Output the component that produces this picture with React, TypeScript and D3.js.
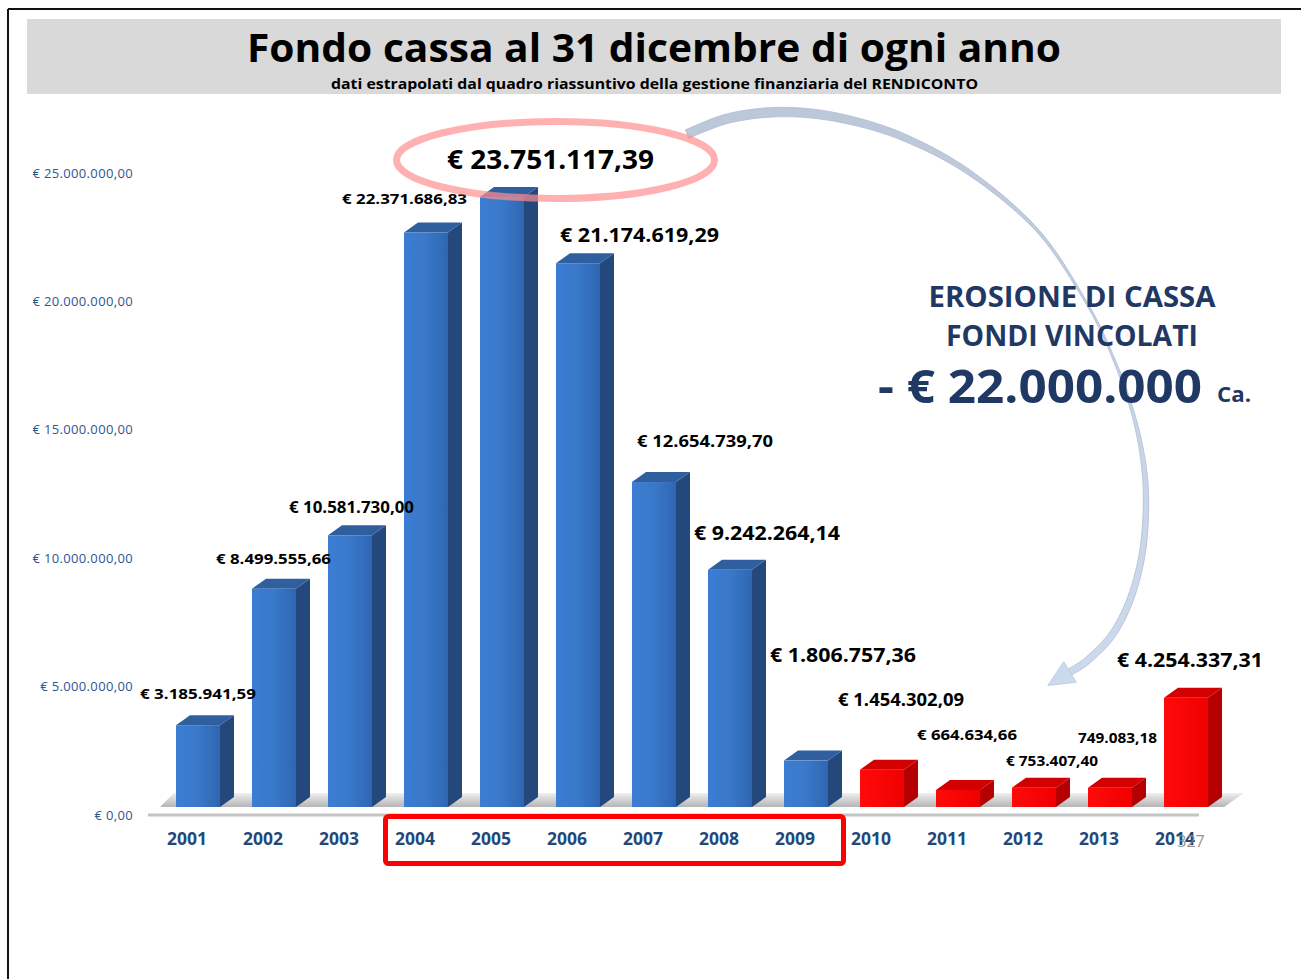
import React from "react";
import * as d3 from "d3";

// ---------- data ----------
const years = ["2001","2002","2003","2004","2005","2006","2007","2008","2009","2010","2011","2012","2013","2014"];
const values = [3185941.59, 8499555.66, 10581730.0, 22371686.83, 23751117.39, 21174619.29, 12654739.7, 9242264.14, 1806757.36, 1454302.09, 664634.66, 753407.4, 749083.18, 4254337.31];
const valueLabels = ["€ 3.185.941,59","€ 8.499.555,66","€ 10.581.730,00","€ 22.371.686,83","€ 23.751.117,39","€ 21.174.619,29","€ 12.654.739,70","€ 9.242.264,14","€ 1.806.757,36","€ 1.454.302,09","€ 664.634,66","€ 753.407,40","749.083,18","€ 4.254.337,31"];
const erosionYears = ["2010","2011","2012","2013","2014"];
const highlightedYears = ["2004","2005","2006","2007","2008","2009"];
const yTicks = [0, 5000000, 10000000, 15000000, 20000000, 25000000];
const yTickLabels = ["€ 0,00","€ 5.000.000,00","€ 10.000.000,00","€ 15.000.000,00","€ 20.000.000,00","€ 25.000.000,00"];

const title = "Fondo cassa al 31 dicembre di ogni anno";
const subtitle = "dati estrapolati dal quadro riassuntivo della gestione finanziaria del RENDICONTO";
const noteLines = ["EROSIONE DI CASSA", "FONDI VINCOLATI"];
const noteAmount = "- € 22.000.000";
const noteSuffix = "Ca.";
const pageNumber = "327";

// ---------- label layout (style) ----------
const labelDx = [-36, -36, -39, -62, -33, 4, 5, -14, -14, -22, -19, -6, -10, -47];
const labelDy = [-26, -25, -22, -28, -28, -21, -35, -30, -99, -64, -50, -22, -45, -31];
const labelSize = [15, 15, 15.5, 15, 26, 19, 16.5, 19, 19.5, 17, 15, 14, 14, 19.5];
const labelWidth = [116, 115, 125, 125, 207, 159, 136, 146, 146, 126, 100, 92, 79, 146];

// arrow centerline & width profile (style)
const arrowPts: [number, number][] = [[687,134],[730,118],[783,112],[840,118],[903,137],[970,173],[1037,230],[1083,297],[1110,350],[1132,410],[1143,460],[1146,505],[1142,555],[1130,600],[1112,635],[1088,660],[1070,672]];
const arrowW = [9,9.5,9.5,8.5,7,5,3,2,2,3,4.5,5.5,6,6.5,7,7,7];

const W = 1301, H = 979;
const FONT = "'Open Sans', 'DejaVu Sans', sans-serif";
const DEPTH_X = 14, DEPTH_Y = 10;

function catmull(points: [number, number][], widths: number[], seg = 16) {
  const out: { p: [number, number]; w: number }[] = [];
  const n = points.length;
  for (let i = 0; i < n - 1; i++) {
    const p0 = points[Math.max(i - 1, 0)], p1 = points[i], p2 = points[i + 1], p3 = points[Math.min(i + 2, n - 1)];
    for (let s = 0; s < seg; s++) {
      const t = s / seg, t2 = t * t, t3 = t2 * t;
      const f = (k: number) => 0.5 * (2 * p1[k] + (-p0[k] + p2[k]) * t + (2 * p0[k] - 5 * p1[k] + 4 * p2[k] - p3[k]) * t2 + (-p0[k] + 3 * p1[k] - 3 * p2[k] + p3[k]) * t3);
      out.push({ p: [f(0), f(1)], w: widths[i] + (widths[i + 1] - widths[i]) * t });
    }
  }
  out.push({ p: points[n - 1], w: widths[n - 1] });
  return out;
}

function arrowGeometry() {
  const s = catmull(arrowPts, arrowW);
  const left: [number, number][] = [], right: [number, number][] = [];
  for (let i = 0; i < s.length; i++) {
    const a = s[Math.max(i - 1, 0)].p, b = s[Math.min(i + 1, s.length - 1)].p;
    let dx = b[0] - a[0], dy = b[1] - a[1];
    const L = Math.hypot(dx, dy) || 1;
    dx /= L; dy /= L;
    const nx = -dy, ny = dx, h = s[i].w / 2;
    left.push([s[i].p[0] + nx * h, s[i].p[1] + ny * h]);
    right.push([s[i].p[0] - nx * h, s[i].p[1] - ny * h]);
  }
  const poly = left.concat(right.reverse());
  const end = arrowPts[arrowPts.length - 1];
  const prev = s[s.length - 4].p;
  let dx = end[0] - prev[0], dy = end[1] - prev[1];
  const L = Math.hypot(dx, dy);
  dx /= L; dy /= L;
  const nx = -dy, ny = dx;
  const head: [number, number][] = [
    [end[0] + nx * 12, end[1] + ny * 12],
    [end[0] + dx * 26, end[1] + dy * 26],
    [end[0] - nx * 12, end[1] - ny * 12],
  ];
  return { poly, head };
}

export default function App() {
  const x = d3.scaleBand<string>().domain(years).range([160, 1224]).paddingInner(32 / 76).paddingOuter(16 / 76);
  const bw = x.bandwidth();
  const yBar = d3.scaleLinear().domain([0, 25000000]).range([807, 165]);
  const yAxis = d3.scaleLinear().domain([0, 25000000]).range([815, 173]);
  const closed = d3.line().curve(d3.curveLinearClosed);
  const { poly, head } = arrowGeometry();

  const first = x(years[0])!, last = x(years[years.length - 1])!;
  const base = yBar(0);
  const floor: [number, number][] = [
    [first - 16, base], [last + bw + 16, base],
    [last + bw + 16 + DEPTH_X + 6, base - DEPTH_Y - 4], [first - 16 + DEPTH_X, base - DEPTH_Y - 4],
  ];

  const hlX0 = x(highlightedYears[0])!, hlX1 = x(highlightedYears[highlightedYears.length - 1])!;
  const i2005 = values.indexOf(d3.max(values)!);

  return (
    <svg width={W} height={H} style={{ position: "absolute", left: 0, top: 0, background: "#fff" }} fontFamily={FONT}>
      <defs>
        <linearGradient id="blueFront" x1="0" x2="1" y1="0" y2="0">
          <stop offset="0" stopColor="#3b7dd4" />
          <stop offset="0.5" stopColor="#3a78c9" />
          <stop offset="1" stopColor="#2f66b2" />
        </linearGradient>
        <linearGradient id="redFront" x1="0" x2="1" y1="0" y2="0">
          <stop offset="0" stopColor="#ff0a0a" />
          <stop offset="1" stopColor="#f00000" />
        </linearGradient>
        <linearGradient id="floorGrad" x1="0" x2="0" y1="0" y2="1">
          <stop offset="0" stopColor="#ececec" />
          <stop offset="1" stopColor="#a8a8a8" />
        </linearGradient>
        <linearGradient id="arrowGrad" gradientUnits="userSpaceOnUse" x1="0" y1="110" x2="0" y2="690">
          <stop offset="0" stopColor="#bcc7d8" />
          <stop offset="0.5" stopColor="#c8d4e5" />
          <stop offset="1" stopColor="#ccdaed" />
        </linearGradient>
      </defs>

      {/* page border */}
      <line x1={8} x2={W} y1={9} y2={9} stroke="#111" strokeWidth={2} />
      <line x1={8} x2={8} y1={9} y2={H} stroke="#111" strokeWidth={2} />

      {/* header */}
      <rect x={27} y={19} width={1254} height={75} fill="#d9d9d9" />
      <text x={654} y={62} textAnchor="middle" fontSize={40} fontWeight={700} fill="#000" textLength={814} lengthAdjust="spacingAndGlyphs">{title}</text>
      <text x={654.5} y={89} textAnchor="middle" fontSize={14} fontWeight={700} fill="#000" textLength={647} lengthAdjust="spacingAndGlyphs">{subtitle}</text>

      {/* y axis labels */}
      {yTicks.map((t, i) => (
        <text key={t} x={133} y={yAxis(t)} dy="0.35em" textAnchor="end" fontSize={13} letterSpacing={0.35} fill="#2f5496">{yTickLabels[i]}</text>
      ))}

      {/* floor */}
      <path d={closed(floor)!} fill="url(#floorGrad)" opacity={0.85} />
      <line x1={148} x2={last + bw - 9} y1={yAxis(0)} y2={yAxis(0)} stroke="#c4c4c4" strokeWidth={3} />

      {/* bars */}
      {years.map((yr, i) => {
        const x0 = x(yr)!;
        const top = yBar(values[i]);
        const red = erosionYears.includes(yr);
        const side: [number, number][] = [[x0 + bw, top], [x0 + bw + DEPTH_X, top - DEPTH_Y], [x0 + bw + DEPTH_X, base - DEPTH_Y], [x0 + bw, base]];
        const cap: [number, number][] = [[x0, top], [x0 + DEPTH_X, top - DEPTH_Y], [x0 + bw + DEPTH_X, top - DEPTH_Y], [x0 + bw, top]];
        return (
          <g key={yr}>
            <path d={closed(side)!} fill={red ? "#b40000" : "#24477c"} />
            <path d={closed(cap)!} fill={red ? "#d20000" : "#2f5f9f"} />
            <rect x={x0} y={top} width={bw} height={base - top} fill={red ? "url(#redFront)" : "url(#blueFront)"} />
          </g>
        );
      })}

      {/* x axis labels */}
      {years.map((yr) => (
        <text key={yr} x={x(yr)! + 11} y={845} textAnchor="middle" fontSize={17.5} fontWeight={700} fill="#1f497d">{yr}</text>
      ))}
      <text x={1191} y={847} textAnchor="middle" fontSize={16} fill="#8c8c8c" opacity={0.9}>{pageNumber}</text>

      {/* highlight box */}
      <rect x={hlX0 - 18.5} y={816.5} width={hlX1 - hlX0 + 78} height={47} rx={3} fill="none" stroke="#ff0000" strokeWidth={5} />

      {/* curved arrow */}
      <path d={closed(poly)!} fill="url(#arrowGrad)" stroke="#aebdd2" strokeWidth={0.8} />
      <path d={closed(head)!} fill="#ccdaed" stroke="#b4c5dc" strokeWidth={0.8} />

      {/* value labels */}
      {years.map((yr, i) => (
        <text key={yr} x={x(yr)! + labelDx[i]} y={yBar(values[i]) + labelDy[i]} fontSize={labelSize[i]} fontWeight={700} fill="#000" textLength={labelWidth[i]} lengthAdjust="spacingAndGlyphs">{valueLabels[i]}</text>
      ))}

      {/* ellipse around max */}
      <ellipse cx={x(years[i2005])! + labelDx[i2005] + labelWidth[i2005] / 2 + 5} cy={160} rx={159} ry={38.5} fill="none" stroke="#ff8f8f" strokeOpacity={0.7} strokeWidth={7} />

      {/* annotation */}
      <text x={1072} y={307} textAnchor="middle" fontSize={28} fontWeight={700} fill="#1f3864" textLength={287} lengthAdjust="spacingAndGlyphs">{noteLines[0]}</text>
      <text x={1072} y={346} textAnchor="middle" fontSize={28} fontWeight={700} fill="#1f3864" textLength={252} lengthAdjust="spacingAndGlyphs">{noteLines[1]}</text>
      <text x={878} y={403} fontSize={47} fontWeight={700} fill="#1f3864" textLength={324} lengthAdjust="spacingAndGlyphs">{noteAmount}</text>
      <text x={1217} y={402} fontSize={21} fontWeight={700} fill="#1f3864" textLength={34} lengthAdjust="spacingAndGlyphs">{noteSuffix}</text>
    </svg>
  );
}
